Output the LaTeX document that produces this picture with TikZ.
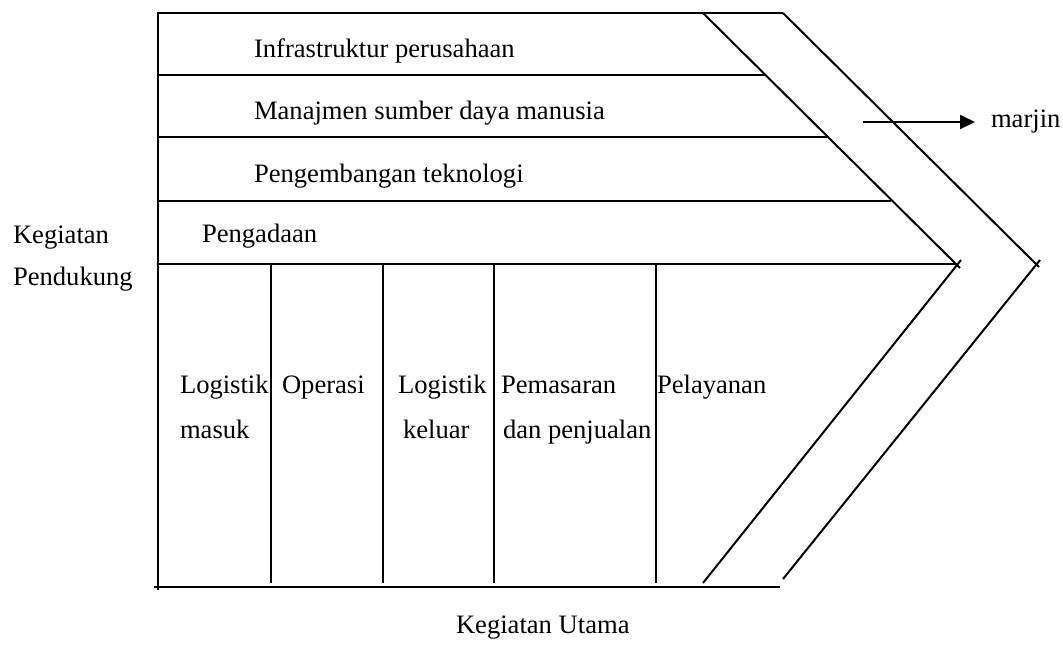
\documentclass[tikz,border=0pt]{standalone}
\usepackage{fontspec}
\setmainfont{Liberation Serif}
\usetikzlibrary{arrows.meta}
\begin{document}
\begin{tikzpicture}[x=1pt,y=-1pt,line width=2pt,
	lbl/.style={anchor=base west,inner sep=0pt,font=\fontsize{26.6}{30}\selectfont}]
	\useasboundingbox (0,0) rectangle (1063,646);
	% rangka
	\draw (158,590) -- (158,13) -- (783,13);
	\draw (154,587) -- (780,587);
	\foreach \y/\x in {75/766,137/827,201/891,264/958}
		\draw (158,\y) -- (\x,\y);
	\foreach \x in {271,383,494,656}
		\draw (\x,264) -- (\x,583);
	% panah dalam dan luar
	\draw (703,13) -- (960,268);
	\draw (961,260) -- (703,583);
	\draw (783,13) -- (1039,267);
	\draw (1040,260) -- (783,579);

	\node[lbl] (infra) at (253,57) {Infrastruktur perusahaan};
	\node[lbl] (sdm) at (253,119) {Manajmen sumber daya manusia};
	\node[lbl] (tek) at (253,182) {Pengembangan teknologi};
	\node[lbl] (pengadaan) at (201,242) {Pengadaan};
	\node[lbl] (kp1) at (12,243) {Kegiatan};
	\node[lbl] (kp2) at (12,285) {Pendukung};

	\node[lbl] (lm1) at (179,393) {Logistik};
	\node[lbl] (lm2) at (179,438) {masuk};
	\node[lbl] (op) at (281,393) {Operasi};
	\node[lbl] (lk1) at (397,393) {Logistik};
	\node[lbl] (lk2) at (402,438) {keluar};
	\node[lbl] (pp1) at (500,393) {Pemasaran};
	\node[lbl] (pp2) at (502,438) {dan penjualan};
	\node[lbl] (pel) at (656,393) {Pelayanan};

	\node[lbl] (utama) at (455,633) {Kegiatan Utama};

	\coordinate (m0) at (863,122);
	\node[lbl,anchor=west,inner sep=3pt] (marjin) at (987,122) {marjin};
	\draw[-{Triangle[length=15pt,width=14pt]},shorten >=12pt] (m0) -- (marjin.west);
\end{tikzpicture}
\end{document}
